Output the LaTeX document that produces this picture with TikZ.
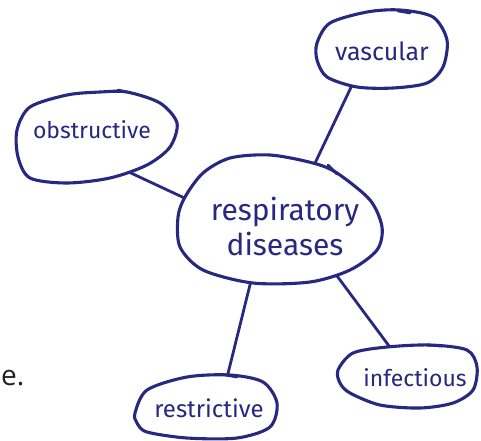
\documentclass[tikz,border=0pt]{standalone}
\usepackage{fontspec}
\setmainfont{Open Sans}
\newfontfamily\hand{Fira Sans}
\usetikzlibrary{shapes.geometric}
\definecolor{ink}{RGB}{40,40,128}
\definecolor{body}{RGB}{35,31,32}
\pgfdeclarelayer{bg}
\pgfdeclarelayer{blobs}
\pgfsetlayers{bg,blobs,main}
\tikzset{
  hub/.style={ellipse, draw=none, inner sep=0pt},
  link/.style={draw=ink, line width=2.8pt, shorten <=-15pt, shorten >=-15pt},
  blob/.style={draw=ink, line width=3.1pt, fill=white, line join=round},
  tick/.style={draw=ink, line width=2.6pt, line cap=round},
  lab/.style={text=ink, inner sep=0pt, anchor=base, align=center},
}
\begin{document}
\begin{tikzpicture}[x=1pt,y=-1pt]
\useasboundingbox (0,0) rectangle (481,440);
% shape nodes
\node[hub, minimum width=204pt, minimum height=128pt] (resp) at (280,218) {};
\node[hub, minimum width=131pt, minimum height=78pt] (vas) at (381,49) {};
\node[hub, minimum width=160pt, minimum height=90pt] (obs) at (97,137) {};
\node[hub, minimum width=139pt, minimum height=63pt] (inf) at (407,377) {};
\node[hub, minimum width=142pt, minimum height=63pt] (res) at (206,407) {};
% connectors
\begin{pgfonlayer}{bg}
\draw[link] (vas.231) -- (resp.58);
\draw[link] (obs.316) -- (resp.168);
\draw[link] (resp.315) -- (inf.120);
\draw[link] (resp.245) -- (res.55);
\end{pgfonlayer}
% blobs
\begin{pgfonlayer}{blobs}
\draw[blob] plot[smooth cycle] coordinates {(230,158) (270,155) (313,163) (337,173) (370,200) (382,227) (377,250) (350,270) (310,282) (253,283) (203,270) (180,247) (178,217) (185,197) (203,173)};
\draw[tick] (328,165) -- (337,174);
\draw[blob] plot[smooth cycle] coordinates {(317,43) (330,23) (367,12) (400,10) (433,17) (447,40) (443,67) (427,83) (393,88) (357,87) (327,77) (317,60)};
\draw[tick] (398,11) -- (410,13);
\draw[blob] plot[smooth cycle] coordinates {(17,130) (30,107) (67,95) (100,92) (127,92) (160,103) (177,123) (170,147) (147,165) (110,178) (67,183) (30,178) (18,157)};
\draw[tick] (118,90) -- (127,92);
\draw[blob] plot[smooth cycle] coordinates {(338,370) (353,353) (387,347) (430,345) (467,350) (477,367) (473,390) (453,403) (420,408) (380,405) (350,393) (340,383)};
\draw[tick] (427,345) -- (442,346);
\draw[blob] plot[smooth cycle] coordinates {(135,413) (147,390) (187,377) (230,375) (263,382) (277,403) (270,427) (237,438) (187,438) (147,432) (137,423)};
\draw[tick] (225,375) -- (237,377);
\end{pgfonlayer}
% labels
\node[lab, font=\hand\fontsize{30}{35}\selectfont] (resp-t) at (285,255) {respiratory\\diseases};
\node[lab, font=\hand\fontsize{25}{28}\selectfont] (vas-t) at (382,60) {vascular};
\node[lab, font=\hand\fontsize{23}{28}\selectfont] (obs-t) at (92,138) {obstructive};
\node[lab, font=\hand\fontsize{23}{28}\selectfont] (inf-t) at (415,386) {infectious};
\node[lab, font=\hand\fontsize{24}{28}\selectfont] (res-t) at (209,417) {restrictive};
\node[text=body, inner sep=0pt, anchor=base west, font=\fontsize{28}{30}\selectfont] (stray) at (1,385) {e.};
\end{tikzpicture}
\end{document}
